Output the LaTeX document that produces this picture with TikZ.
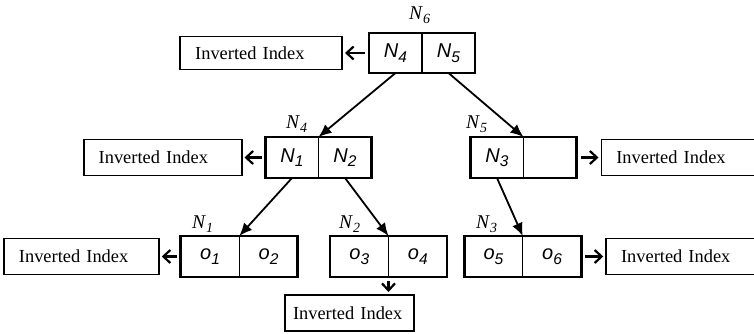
\documentclass[tikz,border=0pt]{standalone}
\usepackage{fontspec}
\setmainfont{Liberation Serif}
\setsansfont{Liberation Sans}
\usetikzlibrary{arrows.meta,calc,positioning}

\newcommand{\nlab}[1]{\textit{N}\raisebox{-4.5pt}{\fontsize{14}{14}\selectfont\textit{#1}}}
\newcommand{\clab}[2]{\textit{#1}\raisebox{-4.5pt}{\fontsize{15.5}{15.5}\selectfont\textit{#2}}}

\tikzset{
  cell/.style={draw, line width=1.3pt, minimum width=53pt, minimum height=40pt, inner sep=0pt, outer sep=0pt, font=\sffamily\fontsize{20}{20}\selectfont},
  leaf/.style={cell, minimum width=58.5pt, minimum height=41pt},
  frame/.style={line width=2.8pt},
  index/.style={draw, line width=1.6pt, minimum height=36pt, inner xsep=15pt, inner ysep=0pt, text width=#1, align=left, font=\fontsize{18.4}{20}\selectfont},
  lbl/.style={inner sep=0pt, anchor=base west, font=\fontsize{19.5}{20}\selectfont},
  child/.style={line width=1.8pt, -{Latex[length=13pt,width=11pt]}},
  ptr/.style={line width=2.2pt, -{Straight Barb[length=7pt,width=13pt]}, shorten <=4pt, shorten >=2pt}
}

\begin{document}
\begin{tikzpicture}[x=1pt,y=-1pt]
	\useasboundingbox (0,0) rectangle (754,333);
	% root N6
	\node[cell] (r4) at (395.5,53) {\clab{N}{4}};
	\node[cell, right=0pt of r4] (r5) {\clab{N}{5}};
	\node[lbl] (l6) at (409,19) {\nlab{6}};
	% N4 and N5
	\node[cell, minimum height=41pt] (a1) at (292,157.5) {\clab{N}{1}};
	\node[cell, minimum height=41pt, right=0pt of a1] (a2) {\clab{N}{2}};
	\node[lbl] (l4) at (286,128) {\nlab{4}};
	\node[cell, minimum height=41pt] (b3) at (497,157.5) {\clab{N}{3}};
	\node[cell, minimum height=41pt, right=0pt of b3] (b0) {};
	\node[lbl] (l5) at (466,128) {\nlab{5}};
	% leaves N1, N2, N3
	\node[leaf] (c1) at (210,256.5) {\clab{o}{1}};
	\node[leaf, right=0pt of c1] (c2) {\clab{o}{2}};
	\node[lbl] (l1) at (192,228) {\nlab{1}};
	\node[leaf] (c3) at (359.25,256.5) {\clab{o}{3}};
	\node[leaf, right=0pt of c3] (c4) {\clab{o}{4}};
	\node[lbl] (l2) at (339,228) {\nlab{2}};
	\node[leaf] (c5) at (493.5,256.5) {\clab{o}{5}};
	\node[leaf, right=0pt of c5] (c6) {\clab{o}{6}};
	\node[lbl] (l3) at (476,228) {\nlab{3}};
	% inverted indexes
	\node[index=132pt, minimum height=33pt, left=26pt of r4] (xn6) {Inverted Index};
	\node[index=128pt, left=23pt of a1] (xn4) {Inverted Index};
	\node[index=127pt, right=24pt of b0] (xn5) {Inverted Index};
	\node[index=125pt, left=21pt of c1] (xn1) {Inverted Index};
	\node[index=113pt, inner xsep=8pt, anchor=north] (xn2) at ($(c3.south east)+(-39,17)$) {Inverted Index};
	\node[index=127pt, right=24pt of c6] (xn3) {Inverted Index};
	% pointers
	\draw[ptr] (r4.west) -- (xn6.east);
	\draw[ptr] (a1.west) -- (xn4.east);
	\draw[ptr] (b0.east) -- (xn5.west);
	\draw[ptr] (c1.west) -- (xn1.east);
	\draw[ptr] (c3.south east) -- (c3.south east |- xn2.north);
	\draw[ptr] (c6.east) -- (xn3.west);
	% tree edges
	\draw[child] (r4.south) -- (a1.north east);
	\draw[child] (r5.south) -- (b3.north east);
	\draw[child] (a1.south) -- (c1.north east);
	\draw[child] (a2.south) -- (c3.north east);
	\draw[child] (b3.south) -- (c5.north east);
	% thick outlines
	\draw[frame] (r4.north west) rectangle (r5.south east);
	\draw[frame] (a1.north west) rectangle (a2.south east);
	\draw[frame] (b3.north west) rectangle (b0.south east);
	\draw[frame] (c1.north west) rectangle (c2.south east);
	\draw[frame] (c3.north west) rectangle (c4.south east);
	\draw[frame] (c5.north west) rectangle (c6.south east);
\end{tikzpicture}
\end{document}
